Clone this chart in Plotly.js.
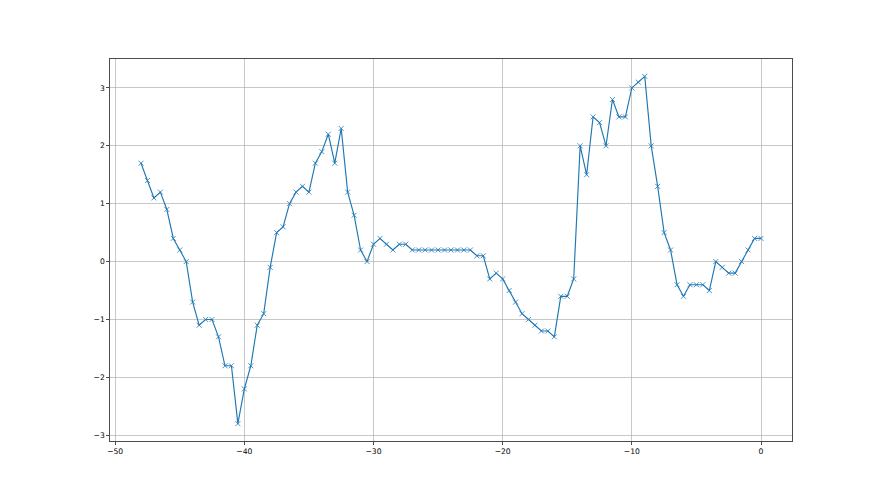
<!DOCTYPE html>
<html>
<head>
<meta charset="utf-8">
<script src="https://cdn.plot.ly/plotly-3.0.1.min.js"></script>
<style>html,body{margin:0;padding:0;background:#fff;}#chart{width:880px;height:495px;}</style>
</head>
<body>
<div id="chart"></div>
<script>
const xValues = [
  -48, -47.5, -47, -46.5, -46, -45.5, -45, -44.5, -44, -43.5,
  -43, -42.5, -42, -41.5, -41, -40.5, -40, -39.5, -39, -38.5,
  -38, -37.5, -37, -36.5, -36, -35.5, -35, -34.5, -34, -33.5,
  -33, -32.5, -32, -31.5, -31, -30.5, -30, -29.5, -29, -28.5,
  -28, -27.5, -27, -26.5, -26, -25.5, -25, -24.5, -24, -23.5,
  -23, -22.5, -22, -21.5, -21, -20.5, -20, -19.5, -19, -18.5,
  -18, -17.5, -17, -16.5, -16, -15.5, -15, -14.5, -14, -13.5,
  -13, -12.5, -12, -11.5, -11, -10.5, -10, -9.5, -9, -8.5,
  -8, -7.5, -7, -6.5, -6, -5.5, -5, -4.5, -4, -3.5,
  -3, -2.5, -2, -1.5, -1, -0.5, 0
];
const yValues = [
  1.7, 1.4, 1.1, 1.2, 0.9, 0.4, 0.2, 0.0, -0.7, -1.1,
  -1.0, -1.0, -1.3, -1.8, -1.8, -2.8, -2.2, -1.8, -1.1, -0.9,
  -0.1, 0.5, 0.6, 1.0, 1.2, 1.3, 1.2, 1.7, 1.9, 2.2,
  1.7, 2.3, 1.2, 0.8, 0.2, 0.0, 0.3, 0.4, 0.3, 0.2,
  0.3, 0.3, 0.2, 0.2, 0.2, 0.2, 0.2, 0.2, 0.2, 0.2,
  0.2, 0.2, 0.1, 0.1, -0.3, -0.2, -0.3, -0.5, -0.7, -0.9,
  -1.0, -1.1, -1.2, -1.2, -1.3, -0.6, -0.6, -0.3, 2.0, 1.5,
  2.5, 2.4, 2.0, 2.8, 2.5, 2.5, 3.0, 3.1, 3.2, 2.0,
  1.3, 0.5, 0.2, -0.4, -0.6, -0.4, -0.4, -0.4, -0.5, 0.0,
  -0.1, -0.2, -0.2, 0.0, 0.2, 0.4, 0.4
];
const xTicks = [-50, -40, -30, -20, -10, 0];
const yTicks = [-3, -2, -1, 0, 1, 2, 3];

const trace = {
  x: xValues,
  y: yValues,
  type: 'scatter',
  mode: 'lines+markers',
  line: {color: '#1f77b4', width: 1.15},
  marker: {symbol: 'x-thin', size: 5, color: '#1f77b4', line: {color: '#1f77b4', width: 0.8}},
  hoverinfo: 'skip'
};

const axisCommon = {
  showgrid: true,
  gridcolor: '#b0b0b0',
  gridwidth: 0.7,
  zeroline: false,
  showline: true,
  linecolor: '#000000',
  linewidth: 0.7,
  mirror: true,
  ticks: 'outside',
  ticklen: 3,
  tickwidth: 0.7,
  tickcolor: '#000000',
  tickfont: {family: 'DejaVu Sans', size: 7.6, color: '#000000'}
};

const layout = {
  width: 880,
  height: 495,
  margin: {l: 110, r: 88, t: 59, b: 54},
  paper_bgcolor: '#ffffff',
  plot_bgcolor: '#ffffff',
  showlegend: false,
  xaxis: Object.assign({}, axisCommon, {range: [-50.4, 2.4], tickvals: xTicks, ticktext: xTicks.map(v => v < 0 ? '\u2212' + Math.abs(v) : String(v))}),
  yaxis: Object.assign({}, axisCommon, {range: [-3.1, 3.5], tickvals: yTicks, ticktext: yTicks.map(v => v < 0 ? '\u2212' + Math.abs(v) : String(v))})
};

Plotly.newPlot('chart', [trace], layout, {displayModeBar: false, staticPlot: true});
</script>
</body>
</html>
